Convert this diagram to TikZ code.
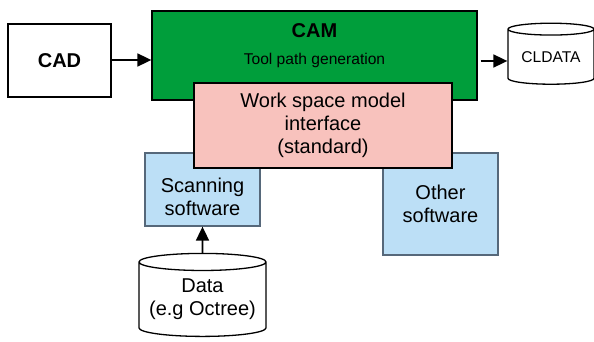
\documentclass[tikz,border=0pt]{standalone}
\usepackage{fontspec}
\setmainfont{Liberation Sans}
\usetikzlibrary{arrows.meta,positioning,shapes.geometric}
\definecolor{camgreen}{HTML}{009E3B}
\definecolor{wsmpink}{HTML}{F8C2BD}
\definecolor{swblue}{HTML}{BCDFF6}
\definecolor{swedge}{HTML}{56687A}
\newcommand{\bigfont}{\fontsize{20}{23}\selectfont}
\newcommand{\smallfont}{\fontsize{15.6}{18}\selectfont}
\tikzset{box/.style={draw=black,line width=1.3pt,inner sep=0pt},swbox/.style={box,draw=swedge,fill=swblue,minimum width=115pt},store/.style={cylinder,shape border rotate=90,draw=black,line width=1.3pt,fill=white,inner sep=0pt,align=center},flow/.style={draw=black,line width=1.8pt,-{Triangle[length=14pt,width=13pt]}},every picture/.style={>=Latex}}

\begin{document}
\begin{tikzpicture}[x=1pt,y=-1pt,font=\bigfont]
\useasboundingbox (0,0) rectangle (594,342);
% CAD feeds the CAM block.
\node[box,minimum width=103pt,minimum height=73pt,font=\bigfont\bfseries] (cad) at (59.5,60.5) {CAD};
\node[box,fill=camgreen,minimum width=325pt,minimum height=89pt] (cam) at (314.5,55.5) {};
\node[font=\bigfont\bfseries] (camtitle) at (314.5,31) {CAM};
\node[font=\smallfont] (camsub) at (314.5,60) {Tool path generation};
\node[store,minimum width=86pt,minimum height=61pt,aspect=0.2,font=\smallfont] (cldata) at (551,57) {CLDATA};
% Software around the interface.
\node[swbox,minimum height=73pt] (scan) at (202.5,189.5) {};
\node[align=center] (scanlbl) at (202.5,196.5) {Scanning\\software};
\node[swbox,minimum height=102pt,align=center] (other) at (440.5,204) {Other\\software};
\node[box,fill=wsmpink,minimum width=258pt,minimum height=85pt,align=center] (wsm) at (323,125.5) {Work space model\\interface\\(standard)};
% Stored data.
\node[store,minimum width=127pt,minimum height=83pt,aspect=0.16] (data) at (202.5,299.5) {Data\\(e.g Octree)};
% Connectors.
\coordinate (clin) at ([yshift=-4pt]cldata.west);
\draw[flow] (cad.east |- 0,60) -- (cam.west |- 0,60);
\draw[flow] ([xshift=3pt]cam.east |- clin) -- (clin);
\draw[flow] (data.north) -- (scan.south);
\end{tikzpicture}
\end{document}
